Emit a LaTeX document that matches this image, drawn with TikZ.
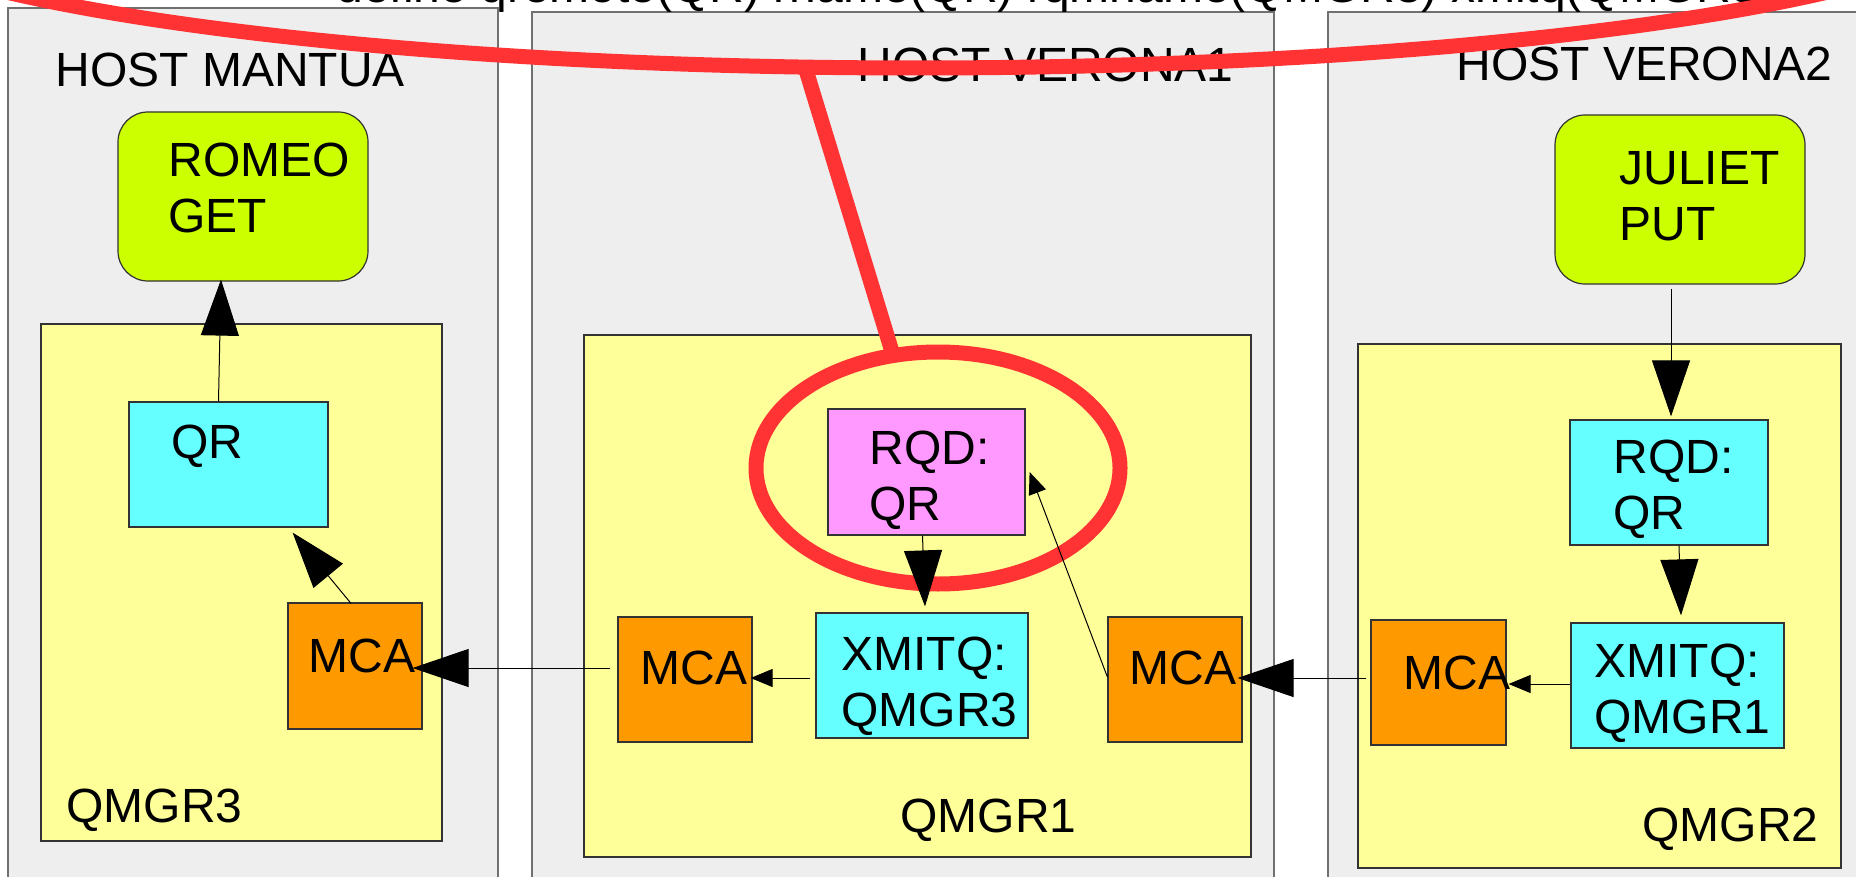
\documentclass[tikz,border=0pt]{standalone}
\usepackage{fontspec}
\setmainfont{Liberation Sans}
\usetikzlibrary{arrows.meta,calc,fit}

\definecolor{hostgray}{HTML}{EEEEEE}
\definecolor{hostline}{HTML}{707070}
\definecolor{boxline}{HTML}{333333}
\definecolor{qmgrfill}{HTML}{FFFF99}
\definecolor{queuefill}{HTML}{66FFFF}
\definecolor{mcafill}{HTML}{FF9900}
\definecolor{remotefill}{HTML}{FF99FF}
\definecolor{appfill}{HTML}{CCFF00}
\definecolor{markred}{HTML}{FF3333}

% two left-aligned lines, baseline on the first line
\newcommand\twoline[2]{\begin{tabular}[t]{@{}l@{}}#1\\#2\end{tabular}}

\begin{document}
\begin{tikzpicture}[x=0.5pt, y=-0.5pt,
  every node/.style={font=\fontsize{24}{28}\selectfont},
  host/.style={draw=hostline, fill=hostgray, line width=0.7pt, inner sep=0pt},
  qmgr/.style={draw=boxline, fill=qmgrfill, line width=0.6pt, inner sep=0pt},
  queue/.style={draw=boxline, fill=queuefill, line width=0.6pt, inner sep=0pt},
  remote/.style={draw=boxline, fill=remotefill, line width=0.6pt, inner sep=0pt},
  mca/.style={draw=boxline, fill=mcafill, line width=0.6pt, inner sep=0pt},
  app/.style={draw=boxline, fill=appfill, line width=0.6pt, inner sep=0pt, rounded corners=15pt},
  txt/.style={anchor=base west, inner sep=0pt},
  bigarrow/.style={draw=black, line width=0.5pt, -{Triangle[length=28pt,width=19pt]}},
  smallarrow/.style={draw=black, line width=0.5pt, -{Triangle[length=11pt,width=9pt]}},
  redmark/.style={draw=markred, line width=7.5pt}]

\clip (0,0) rectangle (1856,877);
\fill[white] (0,0) rectangle (1856,877);

% hosts
\node[host, fit={(8,8) (498,900)}] (mantua) {};
\node[host, fit={(532,12) (1274,900)}] (verona1) {};
\node[host, fit={(1328,12) (1880,900)}] (verona2) {};

% queue managers
\node[qmgr, fit={(41,324) (442,841)}] (qm3) {};
\node[qmgr, fit={(584,335) (1251,857)}] (qm1) {};
\node[qmgr, fit={(1358,344) (1841,868)}] (qm2) {};

% host MANTUA
\node[app, fit={(118,112) (368,281)}] (romeo) {};
\node[queue, fit={(129,402) (328,527)}] (qrM) {};
\node[mca, fit={(288,603) (422,729)}] (mcaM) {};

% host VERONA1
\node[remote, fit={(828,409) (1025,535)}] (rqdV1) {};
\node[queue, fit={(816,613) (1028,738)}] (xmitqV1) {};
\node[mca, fit={(618,617) (752,742)}] (mcaV1L) {};
\node[mca, fit={(1108,617) (1242,742)}] (mcaV1R) {};

% host VERONA2
\node[app, fit={(1555,115) (1805,284)}] (juliet) {};
\node[queue, fit={(1570,420) (1768,545)}] (rqdV2) {};
\node[queue, fit={(1571,623) (1784,748)}] (xmitqV2) {};
\node[mca, fit={(1371,620) (1506,745)}] (mcaV2) {};

% labels
\node[txt] (cmd) at (336,3) {define qremote(QR) rname(QR) rqmname(QMGR3) xmitq(QMGR3)};
\node[txt] (tMantua) at (55,87) {HOST MANTUA};
\node[txt] (tVerona1) at (857,82) {HOST VERONA1};
\node[txt] (tVerona2) at (1456,81) {HOST VERONA2};

\node[txt] (tRomeo) at (168,177) {\twoline{ROMEO}{GET}};
\node[txt] (tQrM) at (171,458) {QR};
\node[txt] (tMcaM) at (308,672) {MCA};
\node[txt] (tQm3) at (66,822) {QMGR3};

\node[txt] (tRqdV1) at (869,464) {\twoline{RQD:}{QR}};
\node[txt] (tXmitqV1) at (841,670) {\twoline{XMITQ:}{QMGR3}};
\node[txt] (tMcaV1L) at (640,684) {MCA};
\node[txt] (tMcaV1R) at (1129,684) {MCA};
\node[txt] (tQm1) at (900,832) {QMGR1};

\node[txt] (tJuliet) at (1619,185) {\twoline{JULIET}{PUT}};
\node[txt] (tRqdV2) at (1613,473) {\twoline{RQD:}{QR}};
\node[txt] (tXmitqV2) at (1594,677) {\twoline{XMITQ:}{QMGR1}};
\node[txt] (tMcaV2) at (1403,689) {MCA};
\node[txt] (tQm2) at (1642,841) {QMGR2};

% red annotation
\draw[redmark] (917,-105) ellipse [x radius=1100, y radius=173];
\draw[redmark] (938,468) ellipse [x radius=182, y radius=116];
\coordinate (callout) at (806,70);
\coordinate (calloutEnd) at (893,355);
\draw[redmark] (callout) -- (calloutEnd);

% message flow
\draw[bigarrow] ($(qrM.north)+(-10,0)$) -- ($(romeo.south)+(-22,-2)$);
\draw[bigarrow] ($(mcaM.north)+(-4,1)$) -- ($(qrM.south east)+(-36,5)$);
\draw[bigarrow] ($(mcaV1L.west)+(-7,-11.5)$) -- ($(mcaM.east)+(-10,2)$);
\draw[smallarrow] ($(xmitqV1.west)+(-5,2.5)$) -- ($(mcaV1L.east)+(-2,-1.5)$);
\draw[bigarrow] ($(rqdV1.south)+(-4,0)$) -- ($(xmitqV1.north)+(3,-6)$);
\draw[smallarrow] ($(mcaV1R.west)+(0,-2.5)$) -- ($(rqdV1.east)+(4,0)$);
\draw[bigarrow] ($(mcaV2.west)+(-4,-4.5)$) -- ($(mcaV1R.east)+(-5,-1.5)$);
\draw[bigarrow] ($(juliet.south)+(-9,4)$) -- ($(rqdV2.north)+(2,-3)$);
\draw[bigarrow] ($(rqdV2.south)+(10,0)$) -- ($(xmitqV2.north)+(3.5,-7)$);
\draw[smallarrow] ($(xmitqV2.west)+(0,-1.5)$) -- ($(mcaV2.east)+(2,1.5)$);
\end{tikzpicture}
\end{document}
